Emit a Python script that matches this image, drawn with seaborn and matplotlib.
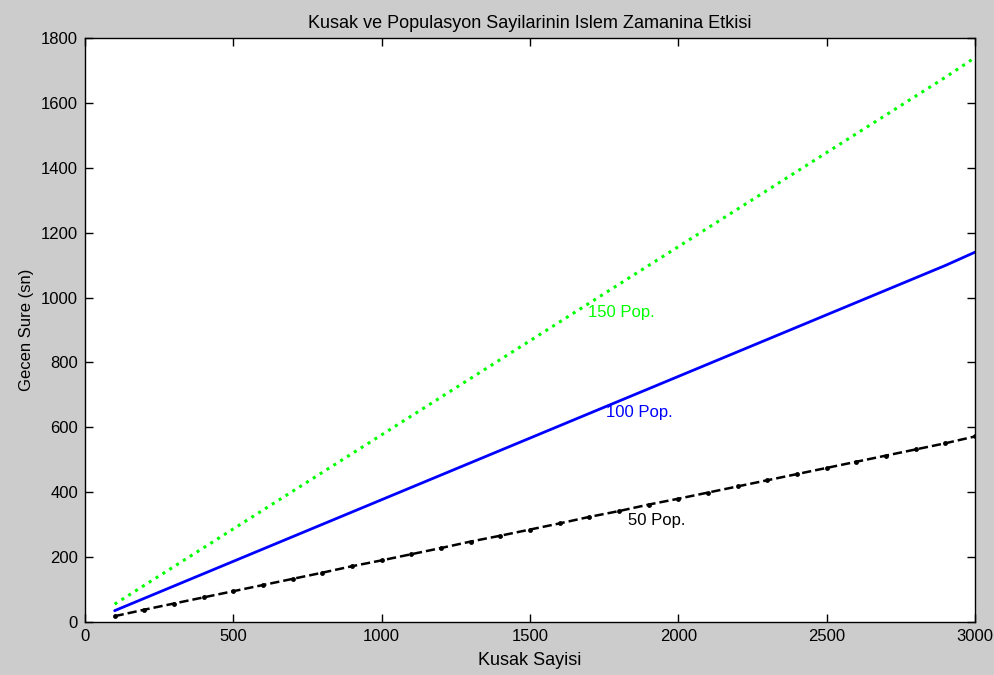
import numpy as np
import pandas as pd
import matplotlib
matplotlib.use("Agg")
import matplotlib.pyplot as plt
import seaborn as sns

generations = list(range(100, 3001, 100))
pop50 = [18, 38, 57, 76, 95, 114, 133, 152, 172, 190, 209, 228, 248, 266, 285, 304, 324, 342, 362, 380,
         399, 418, 437, 456, 475, 494, 513, 532, 551, 572]
pop100 = [35, 73, 111, 149, 187, 225, 263, 301, 339, 377, 415, 453, 491, 529, 567, 605, 643, 681, 719, 757,
          795, 833, 871, 909, 947, 985, 1023, 1061, 1099, 1140]
pop150 = [55, 113, 171, 229, 287, 345, 403, 461, 519, 577, 635, 693, 751, 809, 867, 925, 983, 1041, 1099, 1157,
          1215, 1273, 1331, 1389, 1447, 1505, 1563, 1621, 1679, 1740]

labels = ["150 Pop.", "100 Pop.", "50 Pop."]
label_pos = [(1695, 955), (1756, 647), (1830, 314)]

sns.set_style("ticks")
plt.rcParams['font.family'] = ['Liberation Sans', 'DejaVu Sans']
plt.rcParams['text.color'] = 'black'
plt.rcParams['axes.labelcolor'] = 'black'
plt.rcParams['xtick.color'] = 'black'
plt.rcParams['ytick.color'] = 'black'

fig = plt.figure(figsize=(9.95, 6.75), dpi=100, facecolor="#cccccc")
ax = fig.add_axes([0.0854, 0.0785, 0.8946, 0.8652])
ax.set_facecolor("white")

df = pd.DataFrame({"x": generations, "p50": pop50, "p100": pop100, "p150": pop150})
sns.lineplot(data=df, x="x", y="p150", ax=ax, color="#00ff00", linestyle=":", linewidth=2.2)
sns.lineplot(data=df, x="x", y="p100", ax=ax, color="#0000ff", linestyle="-", linewidth=2.0)
sns.lineplot(data=df, x="x", y="p50", ax=ax, color="black", linestyle="--", linewidth=1.8,
             marker="o", markersize=3.5, markeredgewidth=0)

colors = ["#00ff00", "#0000ff", "black"]
for lab, (px, py), c in zip(labels, label_pos, colors):
    ax.text(px, py, lab, color=c, fontsize=12, ha="left", va="center")

ax.set_xlim(0, 3000)
ax.set_ylim(0, 1800)
ax.set_xticks(range(0, 3001, 500))
ax.set_yticks(range(0, 1801, 200))
ax.tick_params(direction="in", length=6, width=1, top=True, right=True, labelsize=12, pad=5,
               colors="black")
for s in ax.spines.values():
    s.set_visible(True)
    s.set_linewidth(1)
    s.set_color("black")

ax.set_title("Kusak ve Populasyon Sayilarinin Islem Zamanina Etkisi", fontsize=13, pad=7, color="black")
ax.set_xlabel("Kusak Sayisi", fontsize=13, labelpad=6, color="black")
ax.set_ylabel("Gecen Sure (sn)", fontsize=12, labelpad=5, color="black")

fig.savefig("out.png", dpi=100, facecolor=fig.get_facecolor())
